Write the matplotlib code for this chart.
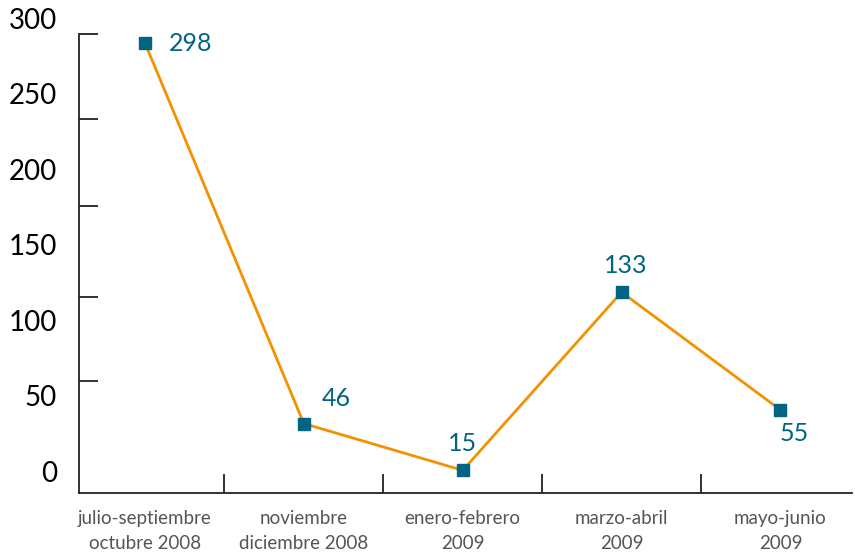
import matplotlib.pyplot as plt
import matplotlib.transforms as mtransforms

# datos
periodos = ['julio-septiembre\noctubre 2008', 'noviembre\ndiciembre 2008',
            'enero-febrero\n2009', 'marzo-abril\n2009', 'mayo-junio\n2009']
valores = [298, 46, 15, 133, 55]
y_etiquetas = [0, 50, 100, 150, 200, 250, 300]

naranja = '#F39200'
azul = '#006482'

plt.rcParams['font.family'] = ['Lato', 'DejaVu Sans']

fig = plt.figure(figsize=(8.55, 5.54), dpi=100)
ax = fig.add_axes([79 / 855, 61 / 554, (852 - 79) / 855, (493 - 34) / 554])

x = list(range(len(valores)))
ax.plot(x, valores, color=naranja, lw=2, marker='s', ms=8.5,
        mfc=azul, mec=azul, zorder=3)

# etiquetas de valores
offsets = [(17, 0, 'left', 'center'), (13, 10, 'left', 'bottom'),
           (0, 11, 'center', 'bottom'), (3, 11, 'center', 'bottom'),
           (10, -9, 'center', 'top')]
for xi, v, (dx, dy, ha, va) in zip(x, valores, offsets):
    ax.annotate(str(v), (xi, v), xytext=(dx, dy), textcoords='offset points',
                ha=ha, va=va, color=azul, fontsize=18)

ax.set_xlim(-0.415, 4.45)
ax.set_ylim(0, 304)

for s in ['top', 'right']:
    ax.spines[s].set_visible(False)
for s in ['left', 'bottom']:
    ax.spines[s].set_linewidth(1.3)
    ax.spines[s].set_color('#222222')

ax.set_xticks(x)
ax.set_xticklabels(periodos, fontsize=13.5, color='#555555', linespacing=1.6)
ax.set_xticks([0.5, 1.5, 2.5, 3.5], minor=True)
ax.tick_params(axis='x', which='major', length=0, pad=12)
ax.tick_params(axis='x', which='minor', direction='in', length=14,
               width=1.3, color='#222222')

ax.set_yticks(y_etiquetas)
ax.set_yticklabels([str(v) for v in y_etiquetas], fontsize=20, color='black')
ax.set_yticks([74, 130, 190, 248, 304], minor=True)
ax.tick_params(axis='y', which='major', length=0, pad=16)
ax.tick_params(axis='y', which='minor', direction='in', length=14,
               width=1.3, color='#222222')
shift = mtransforms.ScaledTranslation(0, 22 / 100, fig.dpi_scale_trans)
for lab in ax.get_yticklabels():
    lab.set_transform(lab.get_transform() + shift)

fig.savefig('out.png', dpi=100)
